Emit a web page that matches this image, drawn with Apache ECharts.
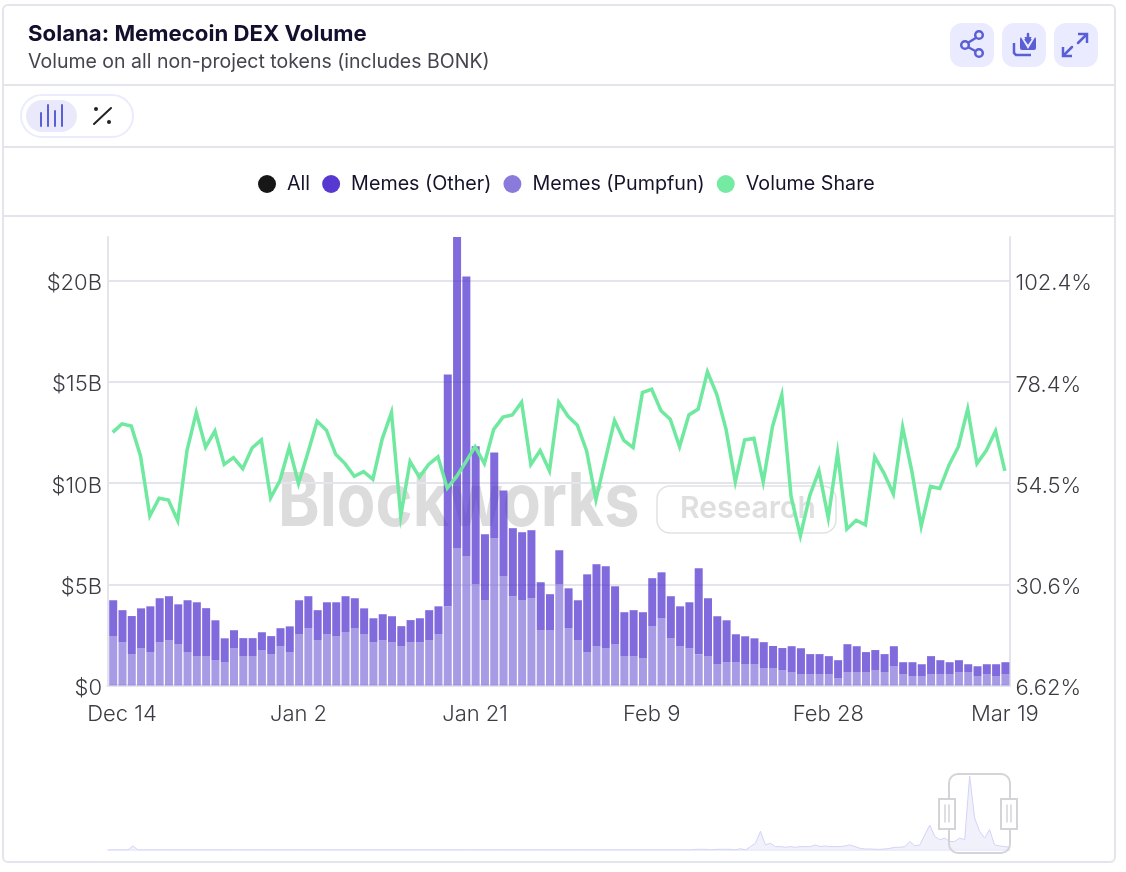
<!DOCTYPE html>
<html>
<head>
<meta charset="utf-8">
<title>Solana: Memecoin DEX Volume</title>
<script src="https://cdn.jsdelivr.net/npm/echarts@6/dist/echarts.min.js"></script>
<style>
  html, body { margin: 0; padding: 0; background: #fff; }
  #chart { width: 1126px; height: 872px; }
</style>
</head>
<body>
<div id="chart"></div>
<script>
const dates = [
  'Dec 13','Dec 14','Dec 15','Dec 16','Dec 17','Dec 18','Dec 19','Dec 20','Dec 21','Dec 22','Dec 23','Dec 24','Dec 25','Dec 26','Dec 27','Dec 28','Dec 29','Dec 30','Dec 31',
  'Jan 1','Jan 2','Jan 3','Jan 4','Jan 5','Jan 6','Jan 7','Jan 8','Jan 9','Jan 10','Jan 11','Jan 12','Jan 13','Jan 14','Jan 15','Jan 16','Jan 17','Jan 18','Jan 19','Jan 20','Jan 21','Jan 22','Jan 23','Jan 24','Jan 25','Jan 26','Jan 27','Jan 28','Jan 29','Jan 30','Jan 31',
  'Feb 1','Feb 2','Feb 3','Feb 4','Feb 5','Feb 6','Feb 7','Feb 8','Feb 9','Feb 10','Feb 11','Feb 12','Feb 13','Feb 14','Feb 15','Feb 16','Feb 17','Feb 18','Feb 19','Feb 20','Feb 21','Feb 22','Feb 23','Feb 24','Feb 25','Feb 26','Feb 27','Feb 28',
  'Mar 1','Mar 2','Mar 3','Mar 4','Mar 5','Mar 6','Mar 7','Mar 8','Mar 9','Mar 10','Mar 11','Mar 12','Mar 13','Mar 14','Mar 15','Mar 16','Mar 17','Mar 18','Mar 19'
]
const dateTicks = ['Dec 14', 'Jan 2', 'Jan 21', 'Feb 9', 'Feb 28', 'Mar 19']

// $B
const memesPumpfun = [
  2.43,2.14,1.55,1.84,1.64,2.14,2.24,2.04,1.64,1.45,1.45,1.25,1.15,1.84,1.45,1.45,1.74,1.55,1.94,1.64,
  2.53,2.83,2.24,2.53,2.43,2.63,2.83,2.53,2.14,2.24,2.14,1.94,2.14,2.14,2.24,2.53,3.91,6.78,6.38,5.0,
  4.21,7.27,5.39,4.41,4.21,4.31,2.73,2.73,5.0,2.83,2.24,1.64,1.94,1.84,2.04,1.45,1.45,1.35,2.93,3.32,
  2.34,1.94,1.84,1.55,1.45,1.05,1.15,1.15,1.05,1.05,0.86,0.86,0.76,0.66,0.56,0.56,0.56,0.56,0.36,0.66,
  0.66,0.66,0.76,0.66,0.95,0.56,0.46,0.46,0.56,0.56,0.56,0.66,0.66,0.46,0.56,0.46,0.56
]
const memesOther = [
  1.78,1.58,1.88,1.97,2.27,2.17,2.17,1.97,2.57,2.66,2.37,1.97,1.18,0.89,0.89,0.89,0.89,0.89,0.89,1.28,
  1.68,1.58,1.48,1.58,1.68,1.78,1.48,1.28,1.18,1.28,1.28,0.99,1.09,1.18,1.48,1.38,11.45,15.39,13.82,6.81,
  3.26,4.24,4.24,3.36,3.36,3.36,2.37,1.78,1.68,1.97,1.97,3.85,4.05,4.05,2.86,2.17,2.27,2.27,2.37,2.27,
  2.07,1.97,2.27,4.24,2.86,2.37,2.07,1.38,1.38,1.28,1.28,1.09,1.09,1.28,1.28,0.99,0.99,0.89,0.89,1.38,
  1.28,0.99,0.99,0.89,0.99,0.59,0.69,0.59,0.89,0.69,0.59,0.59,0.39,0.49,0.49,0.59,0.59
]
// %
const volumeShare = [
  66.5,68.5,68.0,60.9,46.7,50.9,50.5,45.6,62.2,71.2,63.0,66.8,58.9,60.5,57.9,62.8,64.7,51.0,55.1,62.9,
  54.4,61.6,69.1,67.0,61.3,59.1,56.1,57.2,55.4,64.9,71.2,46.7,59.6,55.9,58.9,60.7,53.3,56.0,59.5,63.1,
  59.1,67.2,70.1,70.6,73.6,58.9,62.2,57.4,73.6,70.3,68.2,62.1,50.6,60.0,69.3,64.6,62.9,75.9,76.7,71.6,
  69.6,63.1,70.6,72.0,80.8,75.5,67.2,54.8,64.7,65.1,54.8,67.9,75.4,51.3,42.0,51.5,57.4,46.3,61.6,43.6,
  45.7,44.6,60.7,56.8,51.9,67.7,57.2,44.3,53.7,53.2,58.8,63.1,72.0,59.1,62.2,66.8,57.4
]

const leftTicks = [0, 5, 10, 15, 20]
const rightTicks = [6.62, 30.6, 54.5, 78.4, 102.4]
const rightTickLabels = ['6.62%', '30.6%', '54.5%', '78.4%', '102.4%']

// overview strip under the chart, total volume in $B
const overview = [
  0,0,0,0,0,1.2,0,0,0,0,0,0,0,0,0,0,0,0,0,0,0,0,0,0,0,0,0,0,0,0,
  0,0,0,0,0,0,0,0,0,0,0,0,0,0,0,0,0,0,0,0,0,0,0,0,0,0,0,0,0,0,
  0,0,0,0,0,0,0,0,0,0,0,0,0,0,0,0,0,0,0,0,0,0,0,0,0,0,0,0,0,0,
  0,0,0,0,0,0,0,0,0,0,0,0,0,0,0,0,0,0,0,0,0,0,0,0,0,
  0,0,0,0.2,0.2,0.2,0,0.2,0.2,0.2,0.2,0,0.4,0,1,2,5.5,1.5,2,1,
  1,0.8,1,0.8,1,1,1,1.5,1,1.2,1,1,1,1.2,1.5,1,0.5,0.3,0.3,0.2,
  0.2,0.3,0.5,0.8,0.8,1,2.5,1.2,1.5,4.5,7.3,4,3,3.5,2.5,2.5,3.5,3,21.7,9.4,
  5.5,3.5,6,1.5,1.2,1,0.8
]

const chart = echarts.init(document.getElementById('chart'))
const font = 'Inter'
const cardLine = '#e4e4ec'
const iconBlue = '#5a5fd6'
const btnFill = '#ebebff'
const handleLine = '#d4d4d8'

const divider = y => ({ type: 'line', z: 0, shape: { x1: 4, y1: y, x2: 1114, y2: y }, style: { stroke: cardLine, lineWidth: 2 } })
const button = x => ({ type: 'rect', z: 1, shape: { x: x, y: 23, width: 44, height: 44, r: 12 }, style: { fill: btnFill } })
const stroke = (shape, width, color, z) => ({ type: 'line', z: z || 2, shape: shape, style: { stroke: color || iconBlue, lineWidth: width || 2.5, lineCap: 'round' } })
const poly = (points, width, color) => ({ type: 'polyline', z: 2, shape: { points: points }, style: { stroke: color || iconBlue, fill: null, lineWidth: width || 2.5 } })
const ring = (cx, cy, r) => ({ type: 'circle', z: 2, shape: { cx: cx, cy: cy, r: r }, style: { stroke: iconBlue, fill: btnFill, lineWidth: 2.5 } })

const tickLabel = {
  fontFamily: font,
  fontWeight: 300,
  fontSize: 22,
  color: '#3c3c44'
}
// value labels sit a little under their gridline in the reference
const tickRich = { t: Object.assign({ padding: [6, 0, 0, 0] }, tickLabel) }

chart.setOption({
  animation: false,
  backgroundColor: '#fff',
  textStyle: { fontFamily: font },
  title: {
    text: 'Solana: Memecoin DEX Volume',
    subtext: 'Volume on all non-project tokens (includes BONK)',
    left: 28,
    top: 23,
    itemGap: 7,
    padding: 0,
    textStyle: { fontFamily: font, fontSize: 22.2, fontWeight: 700, color: '#13102e' },
    subtextStyle: { fontFamily: font, fontSize: 19.5, fontWeight: 400, color: '#45454f' }
  },
  legend: {
    top: 174,
    left: 258,
    padding: 0,
    icon: 'circle',
    itemWidth: 18,
    itemHeight: 18,
    itemGap: 12,
    selectedMode: false,
    textStyle: { fontFamily: font, fontSize: 19.7, color: '#15132a', padding: [0, 0, 0, 6] },
    data: [
      { name: 'All', itemStyle: { color: '#171717', opacity: 1 } },
      { name: 'Memes (Other)', itemStyle: { color: '#5738d0', opacity: 1 } },
      { name: 'Memes (Pumpfun)', itemStyle: { color: '#8a7adc', opacity: 1 } },
      { name: 'Volume Share', itemStyle: { color: '#74eaa2', opacity: 1 } }
    ]
  },
  grid: [
    { left: 108, right: 116.5, top: 237, bottom: 186.5 },
    { left: 108, right: 116.5, top: 775, bottom: 22 }
  ],
  xAxis: [
    {
      type: 'category',
      gridIndex: 0,
      data: dates,
      axisTick: { show: false },
      axisLine: { lineStyle: { color: cardLine, width: 3 } },
      axisLabel: Object.assign({
        interval: idx => dateTicks.includes(dates[idx]),
        margin: 18,
        hideOverlap: false
      }, tickLabel)
    },
    {
      type: 'category',
      gridIndex: 1,
      boundaryGap: false,
      data: overview.map((v, i) => i),
      axisTick: { show: false },
      axisLabel: { show: false },
      axisLine: { lineStyle: { color: '#eeeefa', width: 2 } }
    }
  ],
  yAxis: [
    {
      type: 'value',
      gridIndex: 0,
      min: 0,
      max: 22.15,
      interval: 5,
      axisTick: { show: false },
      axisLine: { show: true, lineStyle: { color: cardLine, width: 2 } },
      splitLine: { showMaxLine: false, lineStyle: { color: cardLine, width: 2 } },
      axisLabel: Object.assign({
        customValues: leftTicks,
        margin: 6,
        rich: tickRich,
        formatter: v => '{t|$' + v + (v === 0 ? '' : 'B') + '}'
      }, tickLabel)
    },
    {
      type: 'value',
      gridIndex: 0,
      position: 'right',
      min: 6.62,
      max: 112.7,
      axisTick: { show: false },
      axisLine: { show: true, lineStyle: { color: cardLine, width: 2 } },
      splitLine: { show: false },
      axisLabel: Object.assign({
        customValues: rightTicks,
        margin: 6,
        rich: tickRich,
        formatter: v => '{t|' + rightTickLabels[rightTicks.indexOf(v)] + '}'
      }, tickLabel)
    },
    {
      type: 'value',
      gridIndex: 1,
      min: 0,
      max: 22,
      show: false
    }
  ],
  series: [
    {
      name: 'All',
      type: 'bar',
      xAxisIndex: 0,
      yAxisIndex: 0,
      itemStyle: { color: '#171717' },
      data: []
    },
    {
      name: 'Memes (Pumpfun)',
      type: 'bar',
      stack: 'memes',
      barWidth: 8,
      xAxisIndex: 0,
      yAxisIndex: 0,
      itemStyle: { color: '#8a7adc', opacity: 0.75 },
      data: memesPumpfun,
      z: 3
    },
    {
      name: 'Memes (Other)',
      type: 'bar',
      stack: 'memes',
      barWidth: 8,
      xAxisIndex: 0,
      yAxisIndex: 0,
      itemStyle: { color: '#5738d0', opacity: 0.75 },
      data: memesOther,
      z: 3
    },
    {
      name: 'Volume Share',
      type: 'line',
      xAxisIndex: 0,
      yAxisIndex: 1,
      symbol: 'none',
      lineStyle: { color: '#6fe99f', width: 3.5, join: 'miter' },
      itemStyle: { color: '#74eaa2' },
      data: volumeShare,
      z: 4
    },
    {
      type: 'line',
      xAxisIndex: 1,
      yAxisIndex: 2,
      symbol: 'none',
      silent: true,
      lineStyle: { color: '#d3d3f6', width: 1 },
      areaStyle: { color: '#ebebfb' },
      data: overview
    }
  ],
  graphic: [
    // card and dividers
    { type: 'rect', z: 0, shape: { x: 3, y: 5, width: 1112, height: 857, r: 5 }, style: { fill: 'transparent', stroke: cardLine, lineWidth: 2 } },
    divider(85), divider(147), divider(216),

    // top right buttons
    button(950), button(1002), button(1054),
    stroke({ x1: 966, y1: 44, x2: 979, y2: 36 }),
    stroke({ x1: 966, y1: 46, x2: 979, y2: 53 }),
    ring(979, 35, 3.8), ring(965, 45, 3.8), ring(979, 53, 3.8),
    { type: 'rect', z: 2, shape: { x: 1020, y: 37, width: 16, height: 13, r: 2 }, style: { fill: iconBlue } },
    poly([[1014, 43], [1014, 53], [1016, 55], [1031, 55]]),
    poly([[1022, 36], [1028, 46], [1034, 36]], 3, btnFill),
    stroke({ x1: 1028, y1: 34, x2: 1028, y2: 41 }),
    poly([[1025, 39], [1028, 43], [1031, 39]], 2),
    poly([[1063, 47], [1063, 56], [1072, 56]]),
    stroke({ x1: 1064, y1: 55, x2: 1072, y2: 47 }),
    poly([[1078, 34], [1087, 34], [1087, 43]]),
    stroke({ x1: 1086, y1: 35, x2: 1078, y2: 43 }),

    // chart type toggle
    { type: 'rect', z: 1, shape: { x: 21, y: 95, width: 112, height: 42, r: 21 }, style: { fill: '#fff', stroke: '#ebebff', lineWidth: 2 } },
    { type: 'rect', z: 2, shape: { x: 26, y: 100, width: 51, height: 32, r: 16 }, style: { fill: '#e9e9fb' } },
    stroke({ x1: 41, y1: 113, x2: 41, y2: 126 }, 2, iconBlue, 3),
    stroke({ x1: 48, y1: 105, x2: 48, y2: 126 }, 2, iconBlue, 3),
    stroke({ x1: 55, y1: 111, x2: 55, y2: 126 }, 2, iconBlue, 3),
    stroke({ x1: 62, y1: 105, x2: 62, y2: 126 }, 2, iconBlue, 3),
    stroke({ x1: 94, y1: 124, x2: 111, y2: 108 }, 2, '#222'),
    { type: 'circle', z: 2, shape: { cx: 96, cy: 109, r: 2 }, style: { fill: '#222' } },
    { type: 'circle', z: 2, shape: { cx: 109, cy: 122, r: 2 }, style: { fill: '#222' } },

    // watermark
    { type: 'text', z: 0, originX: 278, scaleX: 0.853, style: { x: 278, y: 504, text: 'Blockworks', fontFamily: font, fontSize: 74, fontWeight: 700, fill: '#dcdcdc', verticalAlign: 'middle' } },
    { type: 'rect', z: 0, shape: { x: 657, y: 486, width: 179, height: 47, r: 13 }, style: { fill: 'transparent', stroke: '#e2e2e2', lineWidth: 1.5 } },
    { type: 'text', z: 0, style: { x: 680, y: 509, text: 'Research', fontFamily: font, fontSize: 30, fontWeight: 600, fill: '#dfdfdf', verticalAlign: 'middle' } },

    // overview window
    { type: 'rect', z: 5, shape: { x: 949, y: 774, width: 61, height: 79, r: 9 }, style: { fill: 'transparent', stroke: handleLine, lineWidth: 2 } },
    { type: 'rect', z: 6, shape: { x: 939, y: 799, width: 16, height: 30 }, style: { fill: '#fff', stroke: handleLine, lineWidth: 2 } },
    { type: 'rect', z: 6, shape: { x: 1001, y: 799, width: 16, height: 30 }, style: { fill: '#fff', stroke: handleLine, lineWidth: 2 } },
    stroke({ x1: 945, y1: 805, x2: 945, y2: 822 }, 1.5, handleLine, 7),
    stroke({ x1: 949, y1: 805, x2: 949, y2: 822 }, 1.5, handleLine, 7),
    stroke({ x1: 1007, y1: 805, x2: 1007, y2: 822 }, 1.5, handleLine, 7),
    stroke({ x1: 1011, y1: 805, x2: 1011, y2: 822 }, 1.5, handleLine, 7)
  ].map(el => Object.assign({ silent: true }, el))
})
</script>
</body>
</html>
